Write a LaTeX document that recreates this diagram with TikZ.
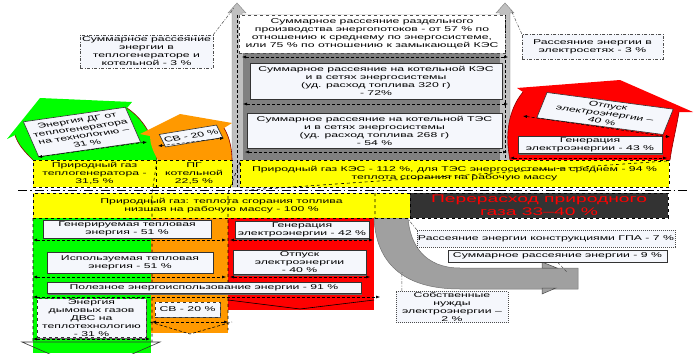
\documentclass[tikz,border=0pt]{standalone}
\usepackage{fontspec}
\newfontfamily\skfont[FakeStretch=1.75]{Liberation Sans}
\newfontfamily\tiltfont{Liberation Sans}
\usetikzlibrary{arrows.meta,shadows}
\definecolor{dgGreen}{HTML}{00FF00}
\definecolor{svOrange}{HTML}{FF9900}
\definecolor{elRed}{HTML}{FF0000}
\definecolor{gasYellow}{HTML}{FFFF00}
\definecolor{lossGray}{HTML}{C0C0C0}
\definecolor{lossDark}{HTML}{808080}
\definecolor{overDark}{HTML}{333333}
\definecolor{bandGray}{HTML}{A0A0A0}
\definecolor{boxWhite}{HTML}{F5F7FC}
\tikzset{
  txt/.style={align=center,inner sep=1pt,font=\skfont\fontsize{7}{8}\selectfont},
  lbl/.style={txt,draw=black!80,line width=0.6pt,fill=boxWhite,
    drop shadow={shadow xshift=1pt,shadow yshift=-1pt,fill=black!60,opacity=1}},
  callout/.style={txt,draw=black!70,line width=0.5pt,fill=boxWhite,
    dash pattern=on 3pt off 1.5pt on 1pt off 1.5pt},
  gasbox/.style={txt,draw=black,line width=0.7pt,dashed,fill=gasYellow},
  tilt/.style={align=center,inner sep=1pt,font=\tiltfont\fontsize{7}{8}\selectfont,
    draw=black!80,line width=0.6pt,fill=boxWhite},
  dim/.style={densely dashed,line width=0.5pt,{Latex[length=4pt,width=3pt]}-{Latex[length=4pt,width=3pt]}},
  lead/.style={draw=black!70,line width=0.5pt,dash pattern=on 3pt off 1.5pt on 1pt off 1.5pt},
  rim/.style={draw=red!55!black,line width=0.6pt}
}
\begin{document}
\begin{tikzpicture}[x=1pt,y=-1pt]
  \useasboundingbox (0,0) rectangle (695,353);
  \clip (0,0) rectangle (695,353);
  \filldraw[fill=lossGray,draw=black!50,line width=0.4pt] (232,187) -- (232,13) -- (228,13) -- (237,3)
    -- (246,13) -- (242,13) -- (242,15) -- (500,15) -- (500,13) -- (496,13) -- (505,3) -- (514,13)
    -- (510,13) -- (510,187) -- cycle;
  \fill[lossDark] (243,53) rectangle (500,160);
  \draw[densely dashed] (237,15) -- (237,187) (505,15) -- (505,160);
  \fill[dgGreen] (33,160) .. controls (25,152) and (18,145) .. (15,135) -- (7,139) -- (40,98)
    -- (132,102) -- (127,108) .. controls (145,120) and (155,140) .. (157,160) -- cycle;
  \draw[rim] (33,160) .. controls (25,152) and (18,145) .. (15,135)
    (127,108) .. controls (145,120) and (155,140) .. (157,160);
  \fill[svOrange] (158,160) .. controls (152,150) and (150,142) .. (150,136) -- (140,134) -- (180,114)
    -- (232,123) -- (224,128) .. controls (230,138) and (232,150) .. (232,160) -- cycle;
  \draw[rim] (224,128) .. controls (230,138) and (232,150) .. (232,160);
  \fill[elRed] (510,160) .. controls (505,135) and (508,110) .. (523,92) -- (517,88) -- (620,80)
    -- (693,112) -- (679,112) .. controls (676,130) and (672,145) .. (670,160) -- cycle;
  \draw[rim] (510,160) .. controls (505,135) and (508,110) .. (523,92)
    (679,112) .. controls (676,130) and (672,145) .. (670,160);
  \fill[dgGreen] (33,218) rectangle (151,353);
  \fill[svOrange] (151,218) rectangle (228,333);
  \fill[elRed] (228,218) rectangle (374,310);
  \filldraw[fill=bandGray,draw=black!55,line width=0.5pt] (374,218) .. controls (376,262) and (402,289) .. (460,289)
    -- (578,289) -- (578,268) -- (460,268) .. controls (425,268) and (410,245) .. (408,218) -- cycle;
  \filldraw[fill=bandGray,draw=black!70,line width=0.5pt] (542,262) -- (557,268) -- (542,268) -- cycle
    (542,288) -- (556,288) -- (542,294) -- cycle;

  \node[callout,minimum width=133pt,minimum height=33pt] (lossTG) at (146.5,51.5)
    {Суммарное рассеяние\\энергии в\\теплогенераторе и\\котельной -  3 \%};
  \node[callout,dashed,fill=white,minimum width=266pt,minimum height=38pt] (lossSep) at (372,34)
    {Суммарное рассеяние раздельного\\производства энергопотоков -  от 57 \%  по\\отношению к среднему по энергосистеме,\\или 75 \% по отношению к замыкающей КЭС};
  \node[lbl,minimum width=252pt,minimum height=36pt] (lossKES) at (376,81)
    {Суммарное рассеяние на котельной КЭС\\и в сетях энергосистемы\\(уд. расход топлива 320 г)\\-  72\%};
  \node[lbl,minimum width=255pt,minimum height=35pt] (lossTES) at (374.5,130.5)
    {Суммарное рассеяние на котельной ТЭС\\и в сетях энергосистемы\\(уд. расход топлива 268 г)\\-  54 \%};
  \node[callout,minimum width=141pt,minimum height=25pt] (lossGrid) at (592.5,46.5)
    {Рассеяние энергии в\\электросетях -  3 \%};
  \node[lbl,minimum width=144pt,minimum height=17pt] (genTop) at (590,145)
    {Генерация\\электроэнергии -  43 \%};
  \begin{scope}[shift={(82,132)},xscale=1.75,transform shape]
    \node[tilt,rotate=14,minimum width=60pt,minimum height=36pt] (dgTech)
      {Энергия ДГ от\\теплогенератора\\на технологию –\\31 \%};
  \end{scope}
  \begin{scope}[shift={(191,136)},xscale=1.75,transform shape]
    \node[tilt,rotate=16,minimum width=34pt,minimum height=13pt] (svTop) {СВ -  20 \%};
  \end{scope}
  \begin{scope}[shift={(605,113.5)},xscale=1.75,transform shape]
    \node[tilt,rotate=-13,minimum width=74pt,minimum height=26pt] (relTop)
      {Отпуск\\электроэнергии –\\40 \%};
  \end{scope}

  \node[gasbox,minimum width=123pt,minimum height=27pt] (gasTG) at (94.5,173.5)
    {Природный газ\\теплогенератора -\\31,5 \%};
  \node[gasbox,minimum width=76pt,minimum height=27pt] (gasBoil) at (194,173.5)
    {ПГ\\котельной\\22,5 \%};
  \node[gasbox,minimum width=429pt,minimum height=27pt] (gasKES) at (454.5,173.5)
    {Природный газ КЭС -  112 \%,  для ТЭС энергосистемы в среднем -  94 \%\\теплота сгорания на рабочую массу};
  \node[gasbox,minimum width=377pt,minimum height=25pt] (gasAll) at (221.5,205.5)
    {Природный газ: теплота сгорания топлива\\низшая на рабочую массу -  100 \%};
  \node[gasbox,fill=overDark,text=elRed,font=\skfont\fontsize{11}{12.5}\selectfont,
    minimum width=258pt,minimum height=25pt] (overGas) at (539,205.5) {Перерасход природного\\газа 33–40 \%};
  \draw[line width=0.9pt,dash pattern=on 9pt off 3pt on 1.5pt off 3pt] (18,190.5) -- (690,190.5);
  \draw[dashed,line width=0.6pt] (667,161) -- (235,191)
    (157,160) -- (152,193) -- (152,342) (240,162) -- (228,193) -- (228,330) (375,193) -- (375,218)
    (33,218) -- (33,342);

  \node[lbl,minimum width=168pt,minimum height=18pt] (heatGen) at (127,229)
    {Генерируемая тепловая\\энергия -  51 \%};
  \node[lbl,minimum width=166pt,minimum height=21pt] (heatUse) at (130,262.5)
    {Используемая тепловая\\энергия -  51 \%};
  \node[lbl,minimum width=314pt,minimum height=11pt] (useful) at (204,288)
    {Полезное энергоиспользование энергии -  91 \%};
  \node[lbl,dashed,minimum width=109pt,minimum height=39pt] (flue) at (91.5,318)
    {Энергия\\дымовых газов\\ДВС на\\теплотехнологию\\-  31 \%};
  \node[lbl,dashed,minimum width=65pt,minimum height=15pt] (svBot) at (187.5,309.5) {СВ -  20 \%};
  \node[lbl,minimum width=134pt,minimum height=17pt] (genBot) at (302,230)
    {Генерация\\электроэнергии -  42 \%};
  \node[lbl,minimum width=133pt,minimum height=24pt] (relBot) at (299.5,262.5)
    {Отпуск\\электроэнергии\\-  40 \%};
  \node[callout,dash pattern=on 1pt off 1pt,minimum width=248pt,minimum height=17pt] (lossGPA) at (546,238.5)
    {Рассеяние энергии конструкциями ГПА -  7 \%};
  \node[lbl,minimum width=219pt,minimum height=12pt] (lossSum) at (557.5,256)
    {Суммарное рассеяние энергии -  9 \%};
  \node[callout,dash pattern=on 1pt off 1pt,minimum width=112pt,minimum height=31pt] (ownNeeds) at (452,307)
    {Собственные\\нужды\\электроэнергии –\\2 \%};

  \draw[black!80,line width=0.6pt] (22,342) -- (160,342) -- (91,372) -- cycle;
  \draw[densely dashed,line width=0.6pt] (150,322) -- (190,334) -- (232,322);
  \draw[line width=0.6pt] (228,300) -- (300,309) -- (374,300);

  \path (234,8) coordinate (tipL) (511,10) coordinate (tipR) (408,219) coordinate (bandTop)
    (402,272) coordinate (bandLow) (567,272) coordinate (shaftTop);
  \draw[lead] (lossTG.north east) -- (tipL);
  \draw[lead] (lossGrid.north west) -- (tipR);
  \draw[lead] (lossGPA.north west) -- (bandTop);
  \draw[lead] ([xshift=6pt]ownNeeds.north west) -- (bandLow);
  \draw[lead,densely dashed] (lossSum.south) -- (shaftTop);

  \path (33,240) coordinate (a1) (226,240) coordinate (a2)
    (230,240) coordinate (b1) (373,240) coordinate (b2)
    (33,277) coordinate (c1) (226,277) coordinate (c2)
    (230,277) coordinate (d1) (370,277) coordinate (d2)
    (33,297) coordinate (e1) (380,297) coordinate (e2)
    (33,339) coordinate (f1) (150,339) coordinate (f2)
    (152,322) coordinate (g1) (228,322) coordinate (g2)
    (242,57) coordinate (h1) (508,57) coordinate (h2)
    (243,104) coordinate (i1) (508,104) coordinate (i2)
    (245,152) coordinate (j1) (507,152) coordinate (j2)
    (510,158) coordinate (k1) (667,158) coordinate (k2)
    (523,116) coordinate (l1) (670,137) coordinate (l2)
    (38,157) coordinate (m1) (147,142) coordinate (m2)
    (158,146) coordinate (n1) (224,138) coordinate (n2);
  \begin{scope}[dim]
    \draw (a1) -- (a2);
    \draw (b1) -- (b2);
    \draw (c1) -- (c2);
    \draw (d1) -- (d2);
    \draw (e1) -- (e2);
    \draw (f1) -- (f2);
    \draw (g1) -- (g2);
    \draw (h1) -- (h2);
    \draw (i1) -- (i2);
    \draw (j1) -- (j2);
    \draw (k1) -- (k2);
    \draw (l1) -- (l2);
    \draw (m1) -- (m2);
    \draw (n1) -- (n2);
  \end{scope}
\end{tikzpicture}
\end{document}
